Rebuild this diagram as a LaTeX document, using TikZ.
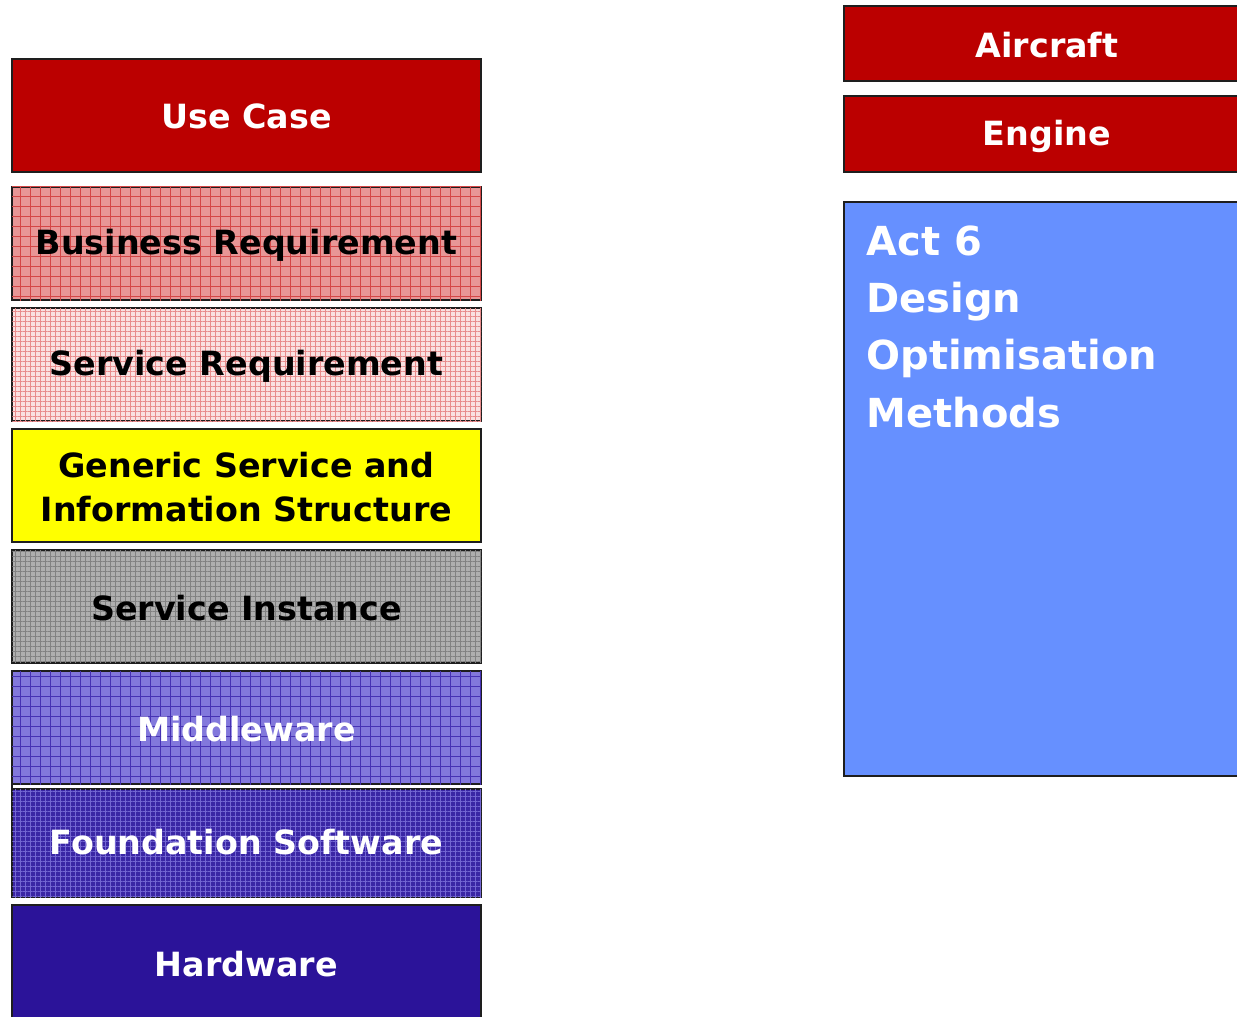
\documentclass[tikz,border=0pt]{standalone}
\usepackage{fontspec}
\setmainfont{DejaVu Sans}
\usetikzlibrary{patterns.meta}

\definecolor{usecasered}{RGB}{187,0,0}
\definecolor{bizred}{RGB}{232,150,150}
\definecolor{bizgrid}{RGB}{212,70,70}
\definecolor{svcpink}{RGB}{250,225,225}
\definecolor{svcgrid}{RGB}{232,140,140}
\definecolor{genyellow}{RGB}{255,255,0}
\definecolor{instgray}{RGB}{175,175,175}
\definecolor{instgrid}{RGB}{130,130,130}
\definecolor{midpurple}{RGB}{130,120,220}
\definecolor{midgrid}{RGB}{70,50,180}
\definecolor{fndpurple}{RGB}{58,38,165}
\definecolor{fndgrid}{RGB}{115,102,210}
\definecolor{hwblue}{RGB}{43,19,153}
\definecolor{actblue}{RGB}{102,144,255}
\definecolor{edgegray}{RGB}{30,30,30}

\tikzset{every picture/.style={line width=0.75pt}}
\tikzset{
  layer/.style={draw=edgegray, line width=1.5pt},
  gridfill/.style 2 args={fill=#1, postaction={pattern={Hatch[distance=7.5pt, angle=0, line width=0.6pt]}, pattern color=#2}},
  finegrid/.style 2 args={fill=#1, postaction={pattern={Hatch[distance=3.75pt, angle=0, line width=0.45pt]}, pattern color=#2}},
  layertext/.style={font=\fontsize{25}{31}\selectfont\bfseries, align=center, inner sep=0pt},
  darktext/.style={layertext, text=black},
  lighttext/.style={layertext, text=white}
}

\begin{document}
\begin{tikzpicture}[x=0.75pt,y=0.75pt,yscale=-1,xscale=1]
\useasboundingbox (0,0) rectangle (1237,1016);
\clip (0,0) rectangle (1237,1016);

% left stack
\draw [layer, fill=usecasered] (12,59) rectangle (481,172);
\node [lighttext] (usecase) at (246.5,116) {Use Case};
\draw [layer, gridfill={bizred}{bizgrid}] (12,187) rectangle (481,300);
\node [darktext] (bizreq) at (246.5,245) {Business Requirement};
\draw [layer, finegrid={svcpink}{svcgrid}] (12,308) rectangle (481,421);
\node [darktext] (svcreq) at (246.5,366) {Service Requirement};
\draw [layer, fill=genyellow] (12,429) rectangle (481,542);
\node [darktext] (generic) at (246.5,487) {Generic Service and\\[2pt]Information Structure};
\draw [layer, finegrid={instgray}{instgrid}] (12,550) rectangle (481,663);
\node [darktext] (instance) at (246.5,608) {Service Instance};
\draw [layer, gridfill={midpurple}{midgrid}] (12,671) rectangle (481,784);
\node [lighttext] (middleware) at (246.5,729) {Middleware};
\draw [layer, finegrid={fndpurple}{fndgrid}] (12,789) rectangle (481,897);
\node [lighttext] (foundation) at (246.5,842) {Foundation Software};
% seam between middleware and foundation
\draw [edgegray, line width=1.5pt] (12,784) -- (12,789);
\draw [white, line width=1.8pt] (19,786.5) -- (481,786.5);
\draw [layer, fill=hwblue] (12,905) rectangle (481,1030);
\node [lighttext] (hardware) at (246.5,964) {Hardware};

% right column
\draw [layer, fill=usecasered] (844,6) rectangle (1250,81);
\node [lighttext] (aircraft) at (1047,45) {Aircraft};
\draw [layer, fill=usecasered] (844,96) rectangle (1250,172);
\node [lighttext] (engine) at (1047,136) {Engine};
\draw [layer, fill=actblue] (844,202) rectangle (1250,776);
\node [text=white, anchor=north west, inner sep=0pt, align=left, font=\fontsize{30}{43}\selectfont\bfseries] (act) at (866,225) {Act 6\\Design\\Optimisation\\Methods};

\end{tikzpicture}
\end{document}
